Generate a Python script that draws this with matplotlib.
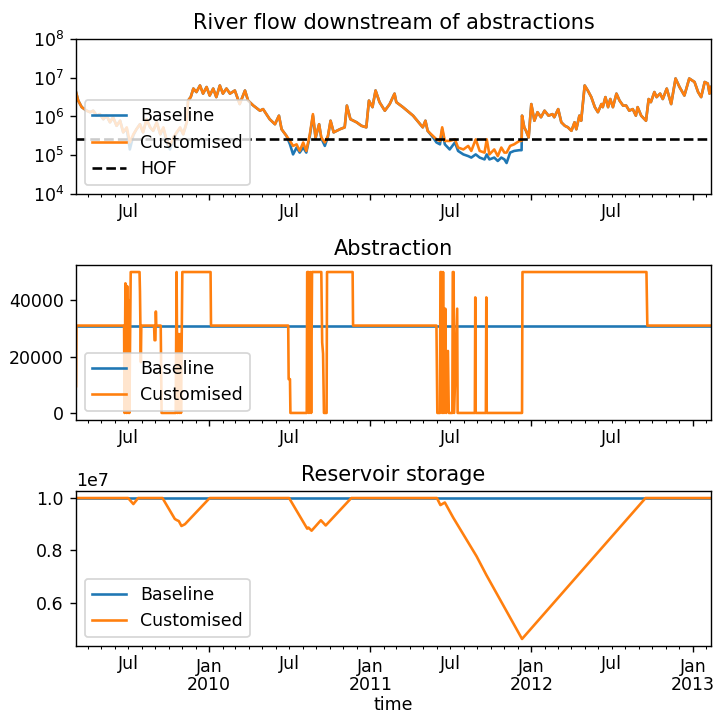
import matplotlib
matplotlib.use('Agg')
import matplotlib.pyplot as plt
import matplotlib.dates as mdates
from matplotlib.ticker import FuncFormatter, NullLocator
import pandas as pd

# ---------------- data ----------------

# River flow downstream of abstractions
flow_dates = [
    '2009-03-05', '2009-03-10', '2009-03-18', '2009-03-29', '2009-04-06', '2009-04-13', '2009-04-21', '2009-04-28',
    '2009-05-06', '2009-05-13', '2009-05-21', '2009-05-28', '2009-06-05', '2009-06-13', '2009-06-20', '2009-06-28',
    '2009-07-05', '2009-07-13', '2009-07-20', '2009-07-28', '2009-08-04', '2009-08-12', '2009-08-20', '2009-08-27',
    '2009-09-04', '2009-09-12', '2009-09-19', '2009-09-27', '2009-10-04', '2009-10-12', '2009-10-19', '2009-10-27',
    '2009-11-03', '2009-11-11', '2009-11-14', '2009-11-20', '2009-11-26', '2009-12-03', '2009-12-11', '2009-12-18',
    '2009-12-26', '2010-01-02', '2010-01-10', '2010-01-17', '2010-01-25', '2010-02-01', '2010-02-09', '2010-02-17',
    '2010-02-28', '2010-03-11', '2010-03-23', '2010-03-30', '2010-04-11', '2010-04-26', '2010-05-03', '2010-05-18',
    '2010-05-30', '2010-06-08', '2010-06-14', '2010-06-25', '2010-07-03', '2010-07-10', '2010-07-18', '2010-07-25',
    '2010-08-02', '2010-08-09', '2010-08-17', '2010-08-24', '2010-08-30', '2010-09-07', '2010-09-12', '2010-09-20',
    '2010-09-27', '2010-10-03', '2010-10-10', '2010-10-24', '2010-11-04', '2010-11-09', '2010-11-17', '2010-12-01',
    '2010-12-12', '2010-12-23', '2010-12-29', '2011-01-06', '2011-01-13', '2011-01-22', '2011-02-03', '2011-02-14',
    '2011-02-25', '2011-03-01', '2011-03-16', '2011-04-08', '2011-04-30', '2011-05-06', '2011-05-11', '2011-05-23',
    '2011-05-31', '2011-06-08', '2011-06-13', '2011-06-19', '2011-06-30', '2011-07-12', '2011-07-19', '2011-07-31',
    '2011-08-11', '2011-08-18', '2011-08-28', '2011-09-06', '2011-09-17', '2011-09-22', '2011-09-28', '2011-10-09',
    '2011-10-17', '2011-10-25', '2011-11-01', '2011-11-06', '2011-11-14', '2011-11-23', '2011-12-05', '2011-12-10',
    '2011-12-11', '2011-12-16', '2011-12-20', '2011-12-26', '2012-01-01', '2012-01-08', '2012-01-15', '2012-01-23',
    '2012-01-31', '2012-02-09', '2012-02-18', '2012-02-22', '2012-03-02', '2012-03-09', '2012-03-17', '2012-03-24',
    '2012-04-01', '2012-04-08', '2012-04-12', '2012-04-19', '2012-04-23', '2012-05-01', '2012-05-08', '2012-05-16',
    '2012-05-24', '2012-05-31', '2012-06-08', '2012-06-11', '2012-06-17', '2012-06-23', '2012-06-28', '2012-07-04',
    '2012-07-12', '2012-07-19', '2012-07-27', '2012-08-03', '2012-08-10', '2012-08-18', '2012-08-25', '2012-08-29',
    '2012-09-06', '2012-09-17', '2012-09-23', '2012-09-28', '2012-10-06', '2012-10-11', '2012-10-19', '2012-10-25',
    '2012-11-03', '2012-11-13', '2012-11-23', '2012-12-02', '2012-12-13', '2012-12-24', '2013-01-05', '2013-01-13',
    '2013-01-20', '2013-01-28', '2013-02-04', '2013-02-08', '2013-02-11',
]
flow_customised = [
    4.27e6, 2.57e6, 1.74e6, 1.41e6, 1.29e6, 1.41e6, 1.05e6, 1.15e6,
    8.51e5, 1.05e6, 7.08e5, 9.55e5, 5.75e5, 7.76e5, 3.89e5, 5.25e5,
    2.14e5, 3.47e5, 4.68e5, 6.31e5, 3.89e5, 8.51e5, 5.25e5, 4.27e5,
    7.08e5, 3.47e5, 5.25e5, 2.34e5, 1.74e5, 2.88e5, 3.89e5, 5.25e5,
    3.47e5, 7.08e5, 2.57e6, 3.16e6, 5.25e6, 4.27e6, 6.31e6, 3.89e6,
    5.75e6, 3.47e6, 5.25e6, 3.16e6, 6.31e6, 3.89e6, 5.25e6, 3.89e6,
    4.68e6, 2.09e6, 4.68e6, 2.57e6, 1.91e6, 1.41e6, 1.55e6, 8.51e5,
    6.31e5, 1.05e6, 4.68e5, 3.16e5, 2.34e5, 1.74e5, 1.91e5, 1.29e5,
    2.14e5, 1.29e5, 3.47e5, 1.15e6, 2.88e5, 6.31e5, 2.88e5, 2.14e5,
    3.16e5, 7.76e5, 3.89e5, 4.68e5, 5.25e5, 1.91e6, 8.51e5, 7.08e5,
    5.75e5, 5.25e5, 2.57e6, 1.74e6, 4.68e6, 2.34e6, 1.41e6, 2.09e6,
    3.89e6, 2.34e6, 1.74e6, 1.05e6, 5.25e5, 7.76e5, 4.27e5, 3.16e5,
    2.57e5, 2.34e5, 5.25e5, 2.34e5, 2.34e5, 2.57e5, 1.58e5, 1.41e5,
    1.74e5, 1.29e5, 2.57e5, 1.29e5, 1.17e5, 2.57e5, 1.05e5, 1.41e5,
    9.5e4, 1.58e5, 1.17e5, 1.17e5, 1.74e5, 1.91e5, 2.34e5, 2.34e5,
    1.05e6, 5.25e5, 4.27e5, 2.88e5, 2.09e6, 7.76e5, 1.29e6, 9.55e5,
    1.41e6, 1.05e6, 1.15e6, 9.55e5, 1.55e6, 7.08e5, 5.75e5, 5.25e5,
    4.27e5, 7.08e5, 4.68e5, 1.05e6, 7.76e5, 6.31e6, 4.68e6, 3.16e6,
    1.74e6, 1.29e6, 2.09e6, 1.74e6, 3.16e6, 1.74e6, 2.82e6, 1.74e6,
    3.89e6, 2.57e6, 1.91e6, 1.91e6, 1.41e6, 1.55e6, 1.05e6, 1.74e6,
    1.05e6, 7.76e5, 2.82e6, 2.34e6, 4.27e6, 3.16e6, 3.89e6, 2.82e6,
    5.25e6, 2.09e6, 9.55e6, 5.75e6, 3.47e6, 9.55e6, 7.76e6, 4.27e6,
    3.16e6, 7.76e6, 7.08e6, 3.89e6, 5.75e6,
]
flow_baseline = [
    4.27e6, 2.57e6, 1.74e6, 1.41e6, 1.29e6, 1.41e6, 1.05e6, 1.15e6,
    8.51e5, 1.05e6, 7.08e5, 9.55e5, 5.75e5, 7.76e5, 3.89e5, 4.9e5,
    1.41e5, 3.3e5, 4.68e5, 6.31e5, 3.89e5, 8.51e5, 5.25e5, 4.27e5,
    7.08e5, 3.47e5, 5.0e5, 2.1e5, 1.41e5, 2.6e5, 3.8e5, 5.0e5,
    3.47e5, 7.08e5, 2.57e6, 3.16e6, 5.25e6, 4.27e6, 6.31e6, 3.89e6,
    5.75e6, 3.47e6, 5.25e6, 3.16e6, 6.31e6, 3.89e6, 5.25e6, 3.89e6,
    4.68e6, 2.09e6, 4.68e6, 2.57e6, 1.91e6, 1.41e6, 1.55e6, 8.51e5,
    6.31e5, 1.05e6, 4.68e5, 3.16e5, 1.91e5, 1.05e5, 1.58e5, 1.17e5,
    1.58e5, 1.17e5, 3.16e5, 1.05e6, 2.75e5, 6.31e5, 2.75e5, 1.74e5,
    3.0e5, 7.76e5, 3.89e5, 4.68e5, 5.25e5, 1.91e6, 8.51e5, 7.08e5,
    5.75e5, 5.25e5, 2.57e6, 1.74e6, 4.68e6, 2.34e6, 1.41e6, 2.09e6,
    3.89e6, 2.34e6, 1.74e6, 1.05e6, 5.25e5, 7.76e5, 4.27e5, 2.9e5,
    2.14e5, 1.91e5, 4.68e5, 1.91e5, 1.41e5, 2.14e5, 1.29e5, 1.05e5,
    9.5e4, 8.7e4, 1.05e5, 8.7e4, 7.8e4, 1.05e5, 7.8e4, 8.7e4,
    7.1e4, 8.7e4, 7.8e4, 6.3e4, 1.17e5, 1.29e5, 1.35e5, 1.35e5,
    1.05e6, 5.25e5, 4.27e5, 2.88e5, 2.09e6, 7.76e5, 1.29e6, 9.55e5,
    1.41e6, 1.05e6, 1.15e6, 9.55e5, 1.55e6, 7.08e5, 5.75e5, 5.25e5,
    4.27e5, 7.08e5, 4.68e5, 1.05e6, 7.76e5, 6.31e6, 4.68e6, 3.16e6,
    1.74e6, 1.29e6, 2.09e6, 1.74e6, 3.16e6, 1.74e6, 2.82e6, 1.74e6,
    3.89e6, 2.57e6, 1.91e6, 1.91e6, 1.41e6, 1.55e6, 1.05e6, 1.74e6,
    1.05e6, 7.76e5, 2.82e6, 2.34e6, 4.27e6, 3.16e6, 3.89e6, 2.82e6,
    5.25e6, 2.09e6, 9.55e6, 5.75e6, 3.47e6, 9.55e6, 7.76e6, 4.27e6,
    3.16e6, 7.76e6, 7.08e6, 3.89e6, 5.75e6,
]
hof = 2.6e5

# Abstraction
abs_base_dates = ['2009-03-05', '2013-02-11']
abs_baseline = [31000, 31000]
abs_dates = [
    '2009-03-05', '2009-03-06', '2009-06-22', '2009-06-23', '2009-06-25', '2009-06-27', '2009-06-29', '2009-07-01',
    '2009-07-02', '2009-07-04', '2009-07-07', '2009-07-27', '2009-07-28', '2009-07-30', '2009-07-31', '2009-08-29',
    '2009-08-30', '2009-09-01', '2009-09-02', '2009-09-03', '2009-09-13', '2009-09-15', '2009-10-17', '2009-10-19',
    '2009-10-21', '2009-10-23', '2009-10-25', '2009-10-27', '2009-10-29', '2009-11-01', '2010-01-04', '2010-01-05',
    '2010-06-29', '2010-06-30', '2010-07-03', '2010-07-04', '2010-08-10', '2010-08-11', '2010-08-14', '2010-08-15',
    '2010-08-18', '2010-08-20', '2010-08-22', '2010-09-12', '2010-09-14', '2010-09-16', '2010-09-18', '2010-09-24',
    '2010-09-25', '2010-11-22', '2010-11-23', '2011-05-31', '2011-06-02', '2011-06-08', '2011-06-09', '2011-06-11',
    '2011-06-13', '2011-06-15', '2011-06-17', '2011-06-20', '2011-06-22', '2011-06-26', '2011-06-28', '2011-07-06',
    '2011-07-07', '2011-07-09', '2011-07-10', '2011-07-17', '2011-07-18', '2011-08-26', '2011-08-27', '2011-08-28',
    '2011-09-20', '2011-09-21', '2011-09-22', '2011-12-11', '2011-12-12', '2012-09-18', '2012-09-20', '2013-02-11',
]
abs_customised = [
    9500, 31000, 31000, 0, 46000, 0, 45000, 0,
    40000, 0, 50000, 50000, 43000, 18000, 31000, 31000,
    25800, 25800, 36000, 31000, 31000, 0, 0, 50000,
    0, 28000, 0, 28000, 0, 50000, 50000, 31000,
    31000, 12000, 12000, 0, 0, 50000, 50000, 0,
    50000, 0, 50000, 50000, 25000, 21000, 0, 0,
    50000, 50000, 31000, 31000, 0, 0, 50000, 50000,
    0, 50000, 0, 37000, 0, 22000, 0, 0,
    50000, 50000, 0, 37000, 0, 0, 41000, 0,
    0, 41000, 0, 0, 50000, 50000, 31000, 31000,
]

# Reservoir storage
store_base_dates = ['2009-03-05', '2013-02-11']
store_baseline = [1.0e7, 1.0e7]
store_dates = [
    '2009-03-05', '2009-07-01', '2009-07-13', '2009-07-24', '2009-09-17', '2009-10-15', '2009-10-20', '2009-10-24',
    '2009-10-30', '2009-11-07', '2010-01-02', '2010-07-01', '2010-08-11', '2010-08-14', '2010-08-21', '2010-09-11',
    '2010-09-22', '2010-11-19', '2011-06-01', '2011-06-09', '2011-06-19', '2011-07-08', '2011-08-30', '2011-09-21',
    '2011-12-11', '2012-09-16', '2013-02-11',
]
store_customised = [
    1.0e7, 1.0e7, 0.977e7, 1.0e7, 1.0e7, 0.92e7, 0.915e7, 0.912e7,
    0.893e7, 0.90e7, 1.0e7, 1.0e7, 0.883e7, 0.887e7, 0.875e7, 0.915e7,
    0.895e7, 1.0e7, 1.0e7, 0.973e7, 0.983e7, 0.925e7, 0.777e7, 0.706e7,
    0.461e7, 1.0e7, 1.0e7,
]

# ---------------- plot ----------------

# 125 dpi so text and lines come out at the reference's scale
fig, axes = plt.subplots(3, 1, figsize=(713 / 125, 715 / 125), dpi=125)
plt.subplots_adjust(left=0.1066, right=0.997, top=0.9455, bottom=0.0965, hspace=0.458)

ax1, ax2, ax3 = axes

ax1.plot(pd.to_datetime(flow_dates), flow_baseline, color='C0', label='Baseline')
ax1.plot(pd.to_datetime(flow_dates), flow_customised, color='C1', label='Customised')
ax1.axhline(hof, color='k', linestyle='--', label='HOF')
ax1.set_yscale('log')
ax1.set_ylim(1e4, 1e8)
ax1.set_yticks([1e4, 1e5, 1e6, 1e7, 1e8])
ax1.yaxis.set_minor_locator(NullLocator())
ax1.set_title('River flow downstream of abstractions')
ax1.legend(loc='lower left')

ax2.plot(pd.to_datetime(abs_base_dates), abs_baseline, color='C0', label='Baseline')
ax2.plot(pd.to_datetime(abs_dates), abs_customised, color='C1', label='Customised')
ax2.set_yticks([0, 20000, 40000])
ax2.set_title('Abstraction')
ax2.legend(loc='lower left')

ax3.plot(pd.to_datetime(store_base_dates), store_baseline, color='C0', label='Baseline')
ax3.plot(pd.to_datetime(store_dates), store_customised, color='C1', label='Customised')
ax3.set_yticks([0.6e7, 0.8e7, 1.0e7])
ax3.set_title('Reservoir storage')
ax3.set_xlabel('time', labelpad=1)
ax3.legend(loc='lower left')


def minor_fmt(x, pos):
    if mdates.num2date(x).month == 7:
        return 'Jul'
    return ''


start = pd.Timestamp(flow_dates[0])
end = pd.Timestamp(flow_dates[-1])
for ax in axes:
    ax.set_xlim(start, end)
    ax.xaxis.set_major_locator(mdates.YearLocator())
    ax.xaxis.set_major_formatter(mdates.DateFormatter('Jan\n%Y'))
    ax.xaxis.set_minor_locator(mdates.MonthLocator())
    ax.xaxis.set_minor_formatter(FuncFormatter(minor_fmt))

# only the bottom panel shows the year labels
ax1.tick_params(axis='x', which='major', labelbottom=False)
ax2.tick_params(axis='x', which='major', labelbottom=False)

# tighter two-line year labels, as in the reference
fig.canvas.draw()
for lab in ax3.xaxis.get_majorticklabels():
    lab.set_linespacing(1.0)

plt.savefig('out.png')
